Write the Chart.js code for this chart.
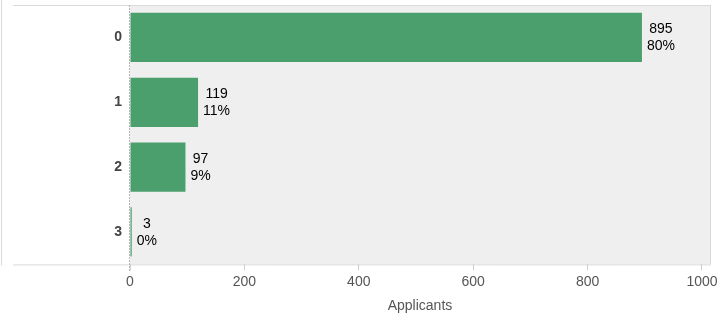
<!DOCTYPE html>
<html lang="en">
<head>
    <meta charset="UTF-8" />
    <title>Applicants</title>
    <script src="https://cdn.jsdelivr.net/npm/chart.js"></script>
    <style>
        html, body { margin: 0; padding: 0; background: #fff; }
        #wrap { width: 723px; height: 317px; position: relative; }
    </style>
</head>
<body>
    <div id="wrap"><canvas id="applicantsChart"></canvas></div>

    <script>
    // data
    const categories = ['0', '1', '2', '3'];
    const applicants = [895, 119, 97, 3];
    const xTicks = [0, 200, 400, 600, 800, 1000];

    const total = applicants.reduce((a, b) => a + b, 0);
    const percentLabels = applicants.map(v => Math.round(v / total * 100) + '%');

    // gray plot background and the thin frame lines
    const frame = {
        id: 'frame',
        beforeDraw(chart) {
            const { ctx, chartArea: a } = chart;
            ctx.save();
            ctx.fillStyle = '#efefef';
            ctx.fillRect(a.left, a.top, a.right - a.left, a.bottom - a.top);
            ctx.strokeStyle = '#dadada';
            ctx.lineWidth = 1;
            ctx.beginPath();
            ctx.moveTo(13, a.top + 0.5); ctx.lineTo(a.right + 1, a.top + 0.5);
            ctx.moveTo(a.right + 0.5, a.top); ctx.lineTo(a.right + 0.5, a.bottom);
            ctx.moveTo(13, a.bottom + 0.5); ctx.lineTo(a.right + 1, a.bottom + 0.5);
            ctx.moveTo(1.5, 0); ctx.lineTo(1.5, a.bottom + 1);
            ctx.stroke();
            ctx.restore();
        },
        afterDatasetsDraw(chart) {
            const { ctx, chartArea: a } = chart;
            const x0 = Math.round(chart.scales.x.getPixelForValue(0)) - 0.5;
            ctx.save();
            ctx.strokeStyle = '#b5b5b5';
            ctx.setLineDash([2, 1]);
            ctx.beginPath();
            ctx.moveTo(x0, a.top);
            ctx.lineTo(x0, a.bottom + 7);
            ctx.stroke();
            ctx.restore();
        }
    };

    // value + percent next to each bar
    const barLabels = {
        id: 'barLabels',
        afterDatasetsDraw(chart) {
            const { ctx } = chart;
            const meta = chart.getDatasetMeta(0);
            ctx.save();
            ctx.font = '14px Arial, "Liberation Sans", sans-serif';
            ctx.fillStyle = '#000';
            ctx.textBaseline = 'middle';
            ctx.textAlign = 'center';
            meta.data.forEach((bar, i) => {
                const l1 = String(applicants[i]);
                const l2 = percentLabels[i];
                const w = Math.max(ctx.measureText(l1).width, ctx.measureText(l2).width);
                const cx = bar.x + 5 + w / 2;
                ctx.fillText(l1, cx, bar.y - 8);
                ctx.fillText(l2, cx, bar.y + 9);
            });
            ctx.restore();
        }
    };

    const ctx = document.getElementById('applicantsChart').getContext('2d');
    new Chart(ctx, {
        type: 'bar',
        data: {
            labels: categories,
            datasets: [{
                data: applicants,
                backgroundColor: '#4a9f6c',
                borderWidth: 0,
                barPercentage: 0.76,
                categoryPercentage: 1
            }]
        },
        options: {
            indexAxis: 'y',
            responsive: true,
            maintainAspectRatio: false,
            animation: false,
            layout: { padding: { top: 5, right: 13, left: 0, bottom: 2 } },
            plugins: {
                legend: { display: false },
                tooltip: { enabled: false }
            },
            scales: {
                x: {
                    min: 0,
                    max: 1014,
                    afterBuildTicks(scale) {
                        scale.ticks = xTicks.map(v => ({ value: v }));
                    },
                    grid: {
                        drawOnChartArea: false,
                        drawTicks: true,
                        tickLength: 6,
                        color: '#cfcfcf'
                    },
                    border: { display: false },
                    ticks: {
                        color: '#555',
                        font: { family: 'Arial, "Liberation Sans", sans-serif', size: 14 },
                        padding: 3,
                        maxRotation: 0,
                        callback: v => String(v)
                    },
                    title: {
                        display: true,
                        text: 'Applicants',
                        color: '#555',
                        font: { family: 'Arial, "Liberation Sans", sans-serif', size: 14 },
                        padding: { top: 5, bottom: 0 }
                    }
                },
                y: {
                    grid: { display: false },
                    border: { display: false },
                    afterFit(scale) {
                        scale.width = 130;
                        scale.paddingTop = 0;
                        scale.paddingBottom = 0;
                    },
                    ticks: {
                        color: '#444',
                        font: { family: 'Arial, "Liberation Sans", sans-serif', size: 14, weight: 'bold' },
                        padding: 0
                    }
                }
            }
        },
        plugins: [frame, barLabels]
    });
    </script>
</body>
</html>
